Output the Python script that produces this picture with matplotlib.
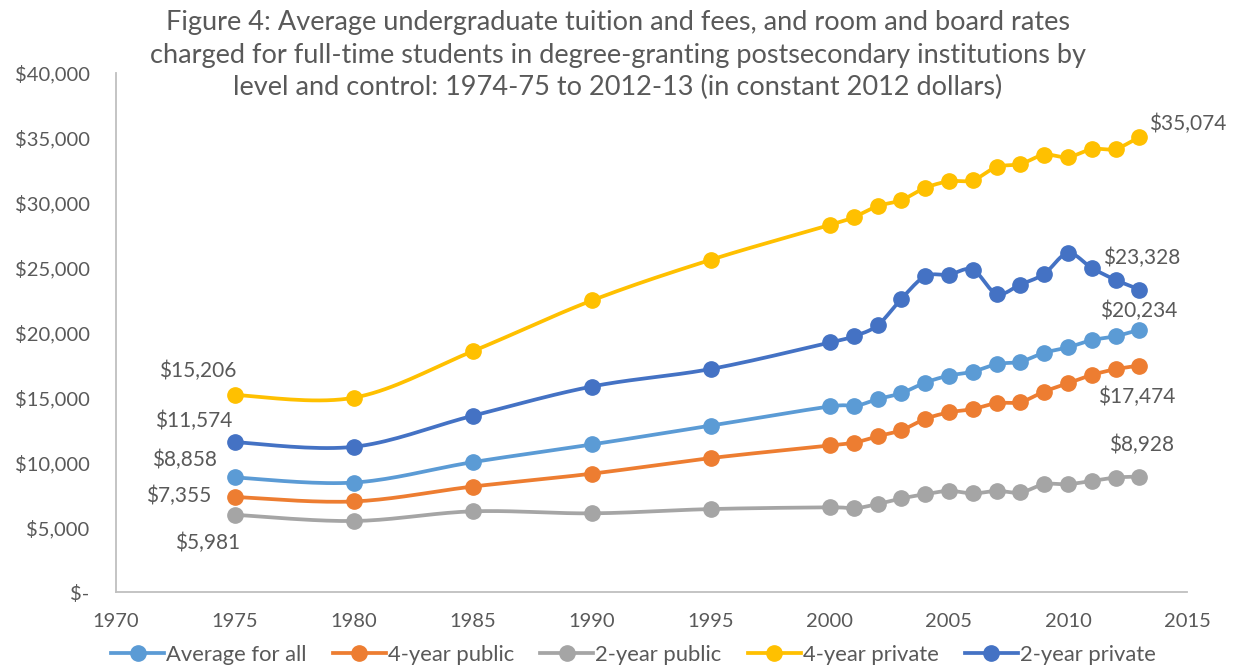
import numpy as np
import matplotlib.pyplot as plt
from matplotlib.lines import Line2D
from matplotlib.ticker import FuncFormatter

plt.rcParams['font.family'] = ['Lato', 'DejaVu Sans']

# Данные (в постоянных долларах 2012 г.)
years = [1975, 1980, 1985, 1990, 1995, 2000, 2001, 2002, 2003, 2004, 2005,
         2006, 2007, 2008, 2009, 2010, 2011, 2012, 2013]

average_all = [8858, 8465, 10040, 11400, 12850, 14325, 14325, 14890, 15350, 16160,
               16700, 17000, 17590, 17770, 18460, 18870, 19430, 19730, 20234]
public_4yr = [7355, 7010, 8160, 9150, 10350, 11320, 11525, 12030, 12490, 13360,
              13870, 14120, 14580, 14660, 15470, 16110, 16750, 17190, 17474]
public_2yr = [5981, 5505, 6250, 6095, 6425, 6555, 6475, 6810, 7240, 7570,
              7825, 7625, 7825, 7700, 8340, 8340, 8590, 8850, 8928]
private_4yr = [15206, 15000, 18585, 22485, 25620, 28300, 28900, 29750, 30210, 31150,
               31660, 31740, 32760, 32990, 33700, 33520, 34140, 34160, 35074]
private_2yr = [11574, 11220, 13610, 15860, 17210, 19250, 19730, 20570, 22610, 24345,
               24470, 24855, 23000, 23710, 24530, 26130, 24985, 24070, 23328]

series_names = ["Average for all", "4-year public", "2-year public",
                "4-year private", "2-year private"]
series_values = [average_all, public_4yr, public_2yr, private_4yr, private_2yr]
colors = ["#5B9BD5", "#ED7D31", "#A5A5A5", "#FFC000", "#4472C4"]

# подписи: (серия, индекс точки, смещение в пикселях)
label_spots = [
    (3, 0, (-37, 24)), (4, 0, (-41, 21)), (0, 0, (-51, 18)),
    (1, 0, (-56, 1)), (2, 0, (-27, -28)),
    (3, -1, (48, 13)), (4, -1, (2, 32)), (0, -1, (-1, 19)),
    (1, -1, (-3, -31)), (2, -1, (2, 32)),
]

TEXT = "#595959"
AXIS = "#BFBFBF"


def smooth(xs, ys, steps=20):
    # сглаживание как в Excel: кубические Безье с контрольными точками по соседям
    xs = np.asarray(xs, float)
    ys = np.asarray(ys, float)
    pts = np.column_stack([xs, ys])
    n = len(pts)
    out = [pts[0]]
    t = np.linspace(0, 1, steps)[1:, None]
    for i in range(n - 1):
        p0 = pts[max(i - 1, 0)]
        p1 = pts[i]
        p2 = pts[i + 1]
        p3 = pts[min(i + 2, n - 1)]
        c1 = p1 + (p2 - p0) / 6
        c2 = p2 - (p3 - p1) / 6
        seg = ((1 - t) ** 3) * p1 + 3 * ((1 - t) ** 2) * t * c1 + 3 * (1 - t) * t ** 2 * c2 + t ** 3 * p2
        out.extend(seg)
    out = np.array(out)
    return out[:, 0], out[:, 1]


fig = plt.figure(figsize=(12.35, 6.67), dpi=100)
ax = fig.add_axes([0.0939, 0.1117, 0.8672, 0.7789])

for name, vals, c in zip(series_names, series_values, colors):
    sx, sy = smooth(years, vals)
    ax.plot(sx, sy, color=c, lw=2.7, solid_capstyle='round')
    ax.plot(years, vals, 'o', color=c, ms=11)

for si, pi, (dx, dy) in label_spots:
    v = series_values[si][pi]
    ax.annotate(f"${v:,}", (years[pi], v), xytext=(dx, dy), textcoords='offset pixels',
                ha='center', va='center', fontsize=15, color=TEXT)

ax.set_xlim(1970, 2015)
ax.set_ylim(0, 40000)
ax.set_xticks(range(1970, 2016, 5))
ax.set_yticks(range(0, 40001, 5000))
ax.yaxis.set_major_formatter(FuncFormatter(lambda v, p: "$-" if v == 0 else f"${int(v):,}"))
ax.tick_params(length=0, labelsize=14.5, labelcolor=TEXT)
ax.tick_params(axis='y', pad=19)
ax.tick_params(axis='x', pad=15)
for s in ['top', 'right']:
    ax.spines[s].set_visible(False)
for s in ['left', 'bottom']:
    ax.spines[s].set_color(AXIS)
    ax.spines[s].set_linewidth(1.3)

fig.text(0.5, 0.985, "Figure 4: Average undergraduate tuition and fees, and room and board rates\n"
         "charged for full-time students in degree-granting postsecondary institutions by\n"
         "level and control: 1974-75 to 2012-13 (in constant 2012 dollars)",
         ha='center', va='top', fontsize=19.5, color=TEXT, linespacing=1.38)

handles = [Line2D([], [], color=c, lw=2.7, marker='o', ms=11) for c in colors]
fig.legend(handles, series_names, loc='lower center', bbox_to_anchor=(0.513, -0.026),
           ncol=5, frameon=False, fontsize=15.8, labelcolor=TEXT,
           handlelength=2.4, handletextpad=0.1, columnspacing=1.2)

fig.savefig("out.png", dpi=100)
